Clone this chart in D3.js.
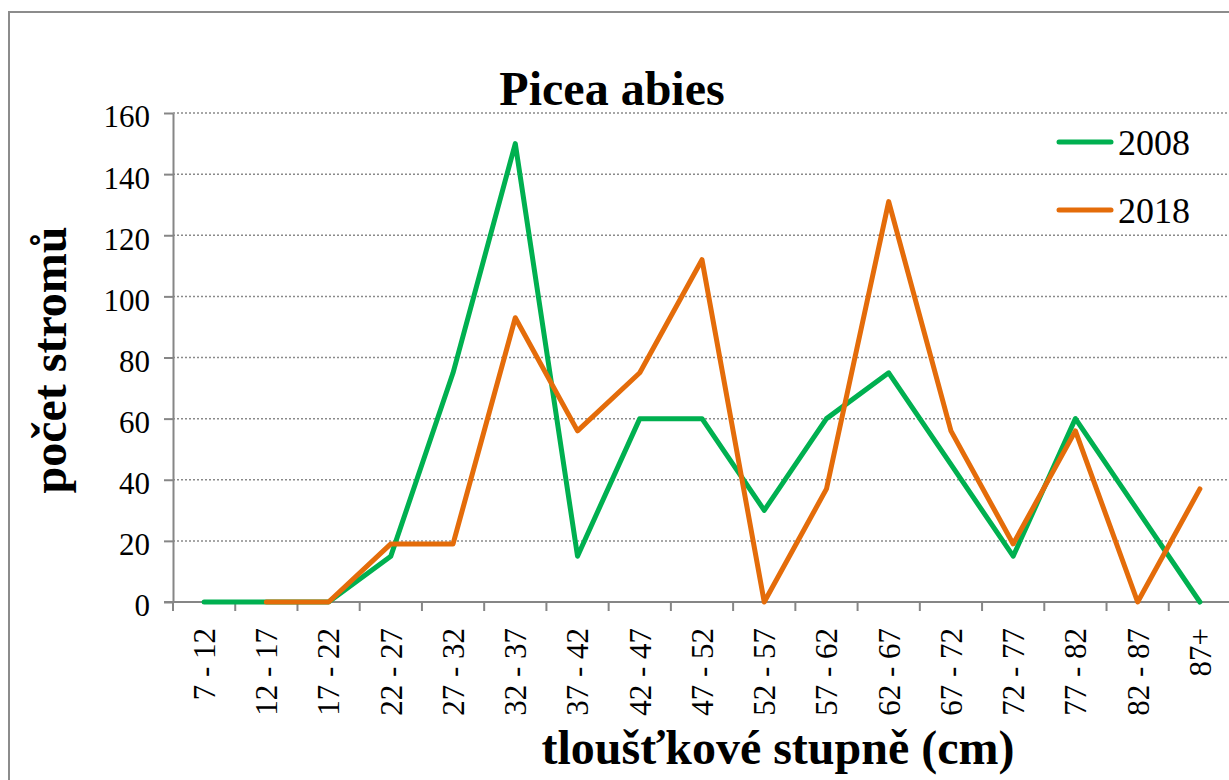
<!DOCTYPE html>
<html>
<head>
<meta charset="utf-8">
<script src="https://cdn.jsdelivr.net/npm/d3@7/dist/d3.min.js"></script>
<style>
  html, body { margin: 0; padding: 0; background: #fff; overflow: hidden; }
  svg { display: block; }
  svg text { font-family: "Liberation Serif", "DejaVu Serif", serif !important; fill: #000; }
</style>
</head>
<body>
<script>
// Diameter classes (cm) and tree counts per survey year
const categories = ["7 - 12", "12 - 17", "17 - 22", "22 - 27", "27 - 32", "32 - 37", "37 - 42",
  "42 - 47", "47 - 52", "52 - 57", "57 - 62", "62 - 67", "67 - 72", "72 - 77", "77 - 82", "82 - 87", "87+"];
const counts2008 = [0, 0, 0, 15, 75, 150, 15, 60, 60, 30, 60, 75, 45, 15, 60, 30, 0];
const counts2018 = [null, 0, 0, 19, 19, 93, 56, 75, 112, 0, 37, 131, 56, 19, 56, 0, 37];
const yTicks = [0, 20, 40, 60, 80, 100, 120, 140, 160];
const seriesNames = ["2008", "2018"];
const seriesColors = ["#00B050", "#E46C0A"];

const W = 1229, H = 780;
const plot = { left: 173, right: 1231, top: 113, bottom: 602 };
const axisColor = "#868686";
const serif = "'Liberation Serif', 'Times New Roman', serif";

const svg = d3.select("body").append("svg")
  .attr("width", W).attr("height", H)
  .attr("font-family", serif);

// outer chart frame
svg.append("rect")
  .attr("x", 9).attr("y", 12).attr("width", W + 20).attr("height", H + 20)
  .attr("fill", "none").attr("stroke", "#8c8c8c").attr("stroke-width", 2);

const x = d3.scaleBand().domain(categories).range([plot.left, plot.right]).padding(0);
const y = d3.scaleLinear().domain([0, 160]).range([plot.bottom, plot.top]);

// horizontal dotted gridlines
svg.append("g").selectAll("line")
  .data(yTicks.filter(d => d > 0))
  .join("line")
  .attr("x1", plot.left).attr("x2", W)
  .attr("y1", d => y(d)).attr("y2", d => y(d))
  .attr("stroke", "#8a8a8a").attr("stroke-width", 1.5)
  .attr("stroke-dasharray", "2,2");

// y axis
const yAxis = svg.append("g")
  .attr("transform", `translate(${plot.left},0)`)
  .call(d3.axisLeft(y).tickValues(yTicks).tickSize(9).tickPadding(14).tickSizeOuter(0))
  .attr("font-family", serif).attr("font-size", 31);
yAxis.select(".domain").attr("stroke", axisColor).attr("stroke-width", 2);
yAxis.selectAll(".tick line").attr("stroke", axisColor).attr("stroke-width", 2);
yAxis.selectAll(".tick text")
  .attr("font-family", serif).attr("font-size", 31)
  .attr("fill", "#000").attr("dy", "0.45em");

// x axis: ticks on category boundaries
const boundaries = categories.map(c => x(c)).concat([x(categories[categories.length - 1]) + x.bandwidth()]);
svg.append("line")
  .attr("x1", plot.left - 9).attr("x2", plot.right)
  .attr("y1", plot.bottom).attr("y2", plot.bottom)
  .attr("stroke", axisColor).attr("stroke-width", 2);
svg.append("g").selectAll("line")
  .data(boundaries)
  .join("line")
  .attr("x1", d => d).attr("x2", d => d)
  .attr("y1", plot.bottom).attr("y2", plot.bottom + 9)
  .attr("stroke", axisColor).attr("stroke-width", 2);

// rotated category labels
svg.append("g").selectAll("text")
  .data(categories)
  .join("text")
  .attr("transform", d => `translate(${x(d) + x.bandwidth() / 2},628) rotate(-90)`)
  .attr("text-anchor", "end")
  .attr("dy", "0.35em")
  .attr("font-family", serif).attr("font-size", 31)
  .text(d => d);

// series lines
const cx = (d, i) => x(categories[i]) + x.bandwidth() / 2;
const line = d3.line()
  .defined(d => d !== null)
  .x((d, i) => cx(d, i))
  .y(d => y(d));

[counts2008, counts2018].forEach((vals, k) => {
  svg.append("path")
    .datum(vals)
    .attr("d", line)
    .attr("fill", "none")
    .attr("stroke", seriesColors[k])
    .attr("stroke-width", 5)
    .attr("stroke-linejoin", "round")
    .attr("stroke-linecap", "round");
});

// legend
const legend = svg.append("g");
seriesNames.forEach((name, k) => {
  const ly = 142 + k * 68;
  legend.append("line")
    .attr("x1", 1059).attr("x2", 1111).attr("y1", ly).attr("y2", ly)
    .attr("stroke", seriesColors[k]).attr("stroke-width", 5)
    .attr("stroke-linecap", "round");
  legend.append("text")
    .attr("x", 1118).attr("y", ly + 13)
    .attr("font-family", serif).attr("font-size", 36)
    .text(name);
});

// titles
svg.append("text")
  .attr("x", 612).attr("y", 105)
  .attr("text-anchor", "middle")
  .attr("font-family", serif).attr("font-size", 48).attr("font-weight", "bold")
  .text("Picea abies");

svg.append("text")
  .attr("transform", "translate(66,360) rotate(-90)")
  .attr("text-anchor", "middle")
  .attr("font-family", serif).attr("font-size", 48).attr("font-weight", "bold")
  .text("počet stromů");

svg.append("text")
  .attr("x", 778).attr("y", 764)
  .attr("text-anchor", "middle")
  .attr("font-family", serif).attr("font-size", 48).attr("font-weight", "bold")
  .text("tloušťkové stupně (cm)");
</script>
</body>
</html>
